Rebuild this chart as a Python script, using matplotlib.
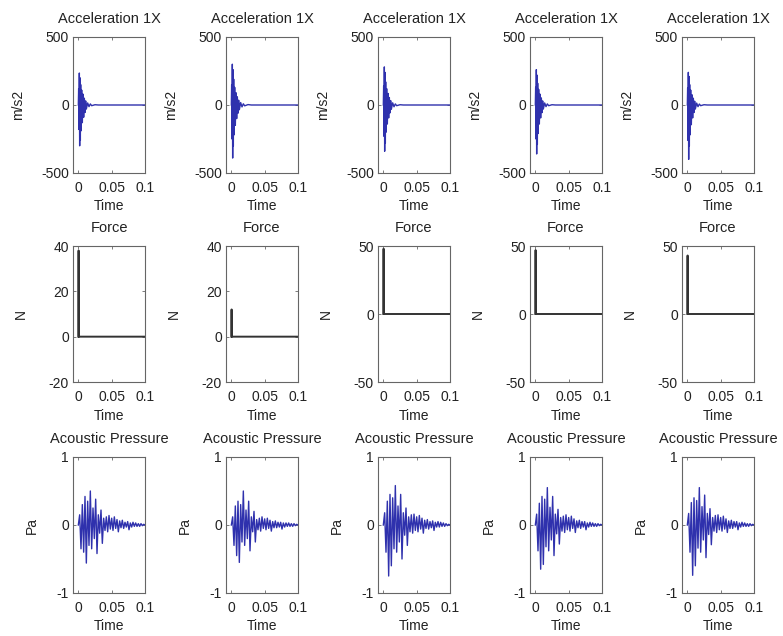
import matplotlib.pyplot as plt

plt.rcParams['font.family'] = ['Liberation Sans', 'DejaVu Sans']
plt.rcParams['font.size'] = 10

# acceleration: shared time samples and peak values per test
acc_time = [0.0, 0.0005, 0.001, 0.0015, 0.002, 0.0025, 0.003, 0.0035, 0.004, 0.005,
            0.006, 0.007, 0.008, 0.009, 0.010, 0.011, 0.012, 0.014, 0.016, 0.018,
            0.020, 0.025, 0.030, 0.100]
acc_1 = [0, 120, -180, 235, -300, 200, -260, 150, -190, 110, -130, 80, -90, 50, -55,
         30, -30, 15, -12, 8, -5, 2, 0, 0]
acc_2 = [0, 150, -250, 300, -390, 260, -300, 190, -220, 130, -150, 90, -100, 60, -60,
         35, -35, 18, -14, 9, -6, 3, 0, 0]
acc_3 = [0, 140, -230, 280, -340, 240, -280, 170, -200, 120, -140, 85, -95, 55, -58,
         32, -32, 16, -13, 8, -5, 2, 0, 0]
acc_4 = [0, 130, -250, 260, -360, 220, -290, 160, -210, 115, -140, 80, -95, 52, -56,
         30, -30, 15, -12, 8, -5, 2, 0, 0]
acc_5 = [0, 125, -260, 240, -400, 210, -300, 150, -220, 110, -145, 75, -95, 50, -55,
         28, -30, 14, -12, 7, -5, 2, 0, 0]

# force: impulse at start then zero
force_time = [0.0, 0.0004, 0.0008, 0.100]
force_1 = [0, 38, 0, 0]
force_2 = [0, 12, 0, 0]
force_3 = [0, 48, 0, 0]
force_4 = [0, 47, 0, 0]
force_5 = [0, 43, 0, 0]

# acoustic pressure
ap_time = [0.000, 0.002, 0.004, 0.006, 0.008, 0.010, 0.012, 0.014, 0.016, 0.018,
           0.020, 0.022, 0.024, 0.026, 0.028, 0.030, 0.032, 0.034, 0.036, 0.038,
           0.040, 0.042, 0.044, 0.046, 0.048, 0.050, 0.052, 0.054, 0.056, 0.058,
           0.060, 0.062, 0.064, 0.066, 0.068, 0.070, 0.072, 0.074, 0.076, 0.078,
           0.080, 0.082, 0.084, 0.086, 0.088, 0.090, 0.092, 0.094, 0.096, 0.098,
           0.100]
ap_1 = [0, 0.15, -0.35, 0.30, -0.40, 0.42, -0.56, 0.35, -0.30, 0.50, -0.35, 0.25, -0.20,
        0.38, -0.42, 0.15, -0.12, 0.22, -0.27, 0.10, -0.08, 0.12, -0.10, 0.14, -0.06,
        0.10, -0.08, 0.12, -0.05, 0.08, -0.10, 0.06, -0.04, 0.07, -0.05, 0.04, -0.03,
        0.05, -0.07, 0.03, -0.03, 0.04, -0.02, 0.03, -0.02, 0.02, -0.02, 0.02, -0.01,
        0.01, 0]
ap_2 = [0, 0.12, -0.30, 0.28, -0.45, 0.35, -0.55, 0.30, -0.25, 0.50, -0.30, 0.22, -0.20,
        0.35, -0.38, 0.12, -0.10, 0.20, -0.25, 0.08, -0.07, 0.10, -0.09, 0.12, -0.05,
        0.09, -0.07, 0.10, -0.05, 0.07, -0.09, 0.05, -0.04, 0.06, -0.04, 0.04, -0.03,
        0.04, -0.06, 0.03, -0.03, 0.03, -0.02, 0.03, -0.02, 0.02, -0.02, 0.02, -0.01,
        0.01, 0]
ap_3 = [0, 0.18, -0.40, 0.35, -0.75, 0.45, -0.60, 0.40, -0.35, 0.58, -0.40, 0.28, -0.25,
        0.45, -0.50, 0.18, -0.15, 0.25, -0.30, 0.12, -0.10, 0.15, -0.12, 0.16, -0.08,
        0.12, -0.10, 0.14, -0.06, 0.10, -0.12, 0.07, -0.05, 0.08, -0.06, 0.05, -0.04,
        0.06, -0.08, 0.04, -0.03, 0.05, -0.03, 0.04, -0.02, 0.03, -0.02, 0.02, -0.01,
        0.01, 0]
ap_4 = [0, 0.16, -0.38, 0.32, -0.65, 0.42, -0.58, 0.38, -0.32, 0.55, -0.38, 0.26, -0.22,
        0.42, -0.45, 0.16, -0.13, 0.23, -0.28, 0.11, -0.09, 0.13, -0.11, 0.15, -0.07,
        0.11, -0.09, 0.13, -0.05, 0.09, -0.11, 0.06, -0.04, 0.07, -0.05, 0.05, -0.03,
        0.05, -0.07, 0.03, -0.03, 0.04, -0.02, 0.03, -0.02, 0.02, -0.02, 0.02, -0.01,
        0.01, 0]
ap_5 = [0, 0.17, -0.40, 0.33, -0.74, 0.40, -0.60, 0.36, -0.34, 0.55, -0.40, 0.27, -0.22,
        0.44, -0.48, 0.17, -0.14, 0.24, -0.29, 0.11, -0.09, 0.14, -0.11, 0.15, -0.07,
        0.11, -0.09, 0.13, -0.06, 0.09, -0.11, 0.06, -0.05, 0.07, -0.05, 0.05, -0.03,
        0.05, -0.07, 0.03, -0.03, 0.04, -0.02, 0.03, -0.02, 0.02, -0.02, 0.02, -0.01,
        0.01, 0]

accs = [acc_1, acc_2, acc_3, acc_4, acc_5]
forces = [force_1, force_2, force_3, force_4, force_5]
pressures = [ap_1, ap_2, ap_3, ap_4, ap_5]
force_limits = [(-20, 40), (-20, 40), (-50, 50), (-50, 50), (-50, 50)]
force_ticks = [[-20, 0, 20, 40], [-20, 0, 20, 40], [-50, 0, 50], [-50, 0, 50], [-50, 0, 50]]

BLUE = '#2f31ad'
FRAME = '#666666'
TEXT = '#222222'

fig = plt.figure(figsize=(7.83, 6.36), dpi=100)

col_left = [73, 226, 378, 530, 682]
row_top = [37, 246, 457]
W, H = 72, 136


def make_axes(col, row):
    left = col_left[col] / 783
    bottom = 1 - (row_top[row] + H) / 636
    return fig.add_axes([left, bottom, W / 783, H / 636])


def style(ax, title, ylabel, ylim, yticks, label_x):
    ax.set_xlim(-0.008, 0.1)
    ax.set_ylim(*ylim)
    ax.set_xticks([0, 0.05, 0.1])
    ax.set_xticklabels(['0', '0.05', '0.1'])
    ax.set_yticks(yticks)
    ax.set_yticklabels([f'{v:g}' for v in yticks])
    ax.tick_params(direction='in', top=True, right=True, length=2.5, width=0.6,
                   color=FRAME, labelcolor=TEXT)
    ax.tick_params(axis='x', pad=6)
    ax.tick_params(axis='y', pad=3)
    for s in ax.spines.values():
        s.set_color(FRAME)
        s.set_linewidth(0.8)
    ax.set_title(title, color=TEXT, fontsize=10.5, pad=10)
    ax.set_xlabel('Time', color=TEXT, labelpad=3)
    ax.set_ylabel(ylabel, color=TEXT)
    ax.yaxis.set_label_coords(label_x, 0.5)


for c in range(5):
    ax = make_axes(c, 0)
    ax.plot(acc_time, accs[c], color=BLUE, linewidth=1.0)
    style(ax, 'Acceleration 1X', 'm/s2', (-500, 500), [-500, 0, 500], -0.67)

    ax = make_axes(c, 1)
    ax.plot(force_time, forces[c], color='#333333', linewidth=1.4)
    style(ax, 'Force', 'N', force_limits[c], force_ticks[c], -0.62)

    ax = make_axes(c, 2)
    ax.plot(ap_time, pressures[c], color=BLUE, linewidth=1.0)
    style(ax, 'Acoustic Pressure', 'Pa', (-1, 1), [-1, 0, 1], -0.47)

fig.savefig('out.png', dpi=100)
